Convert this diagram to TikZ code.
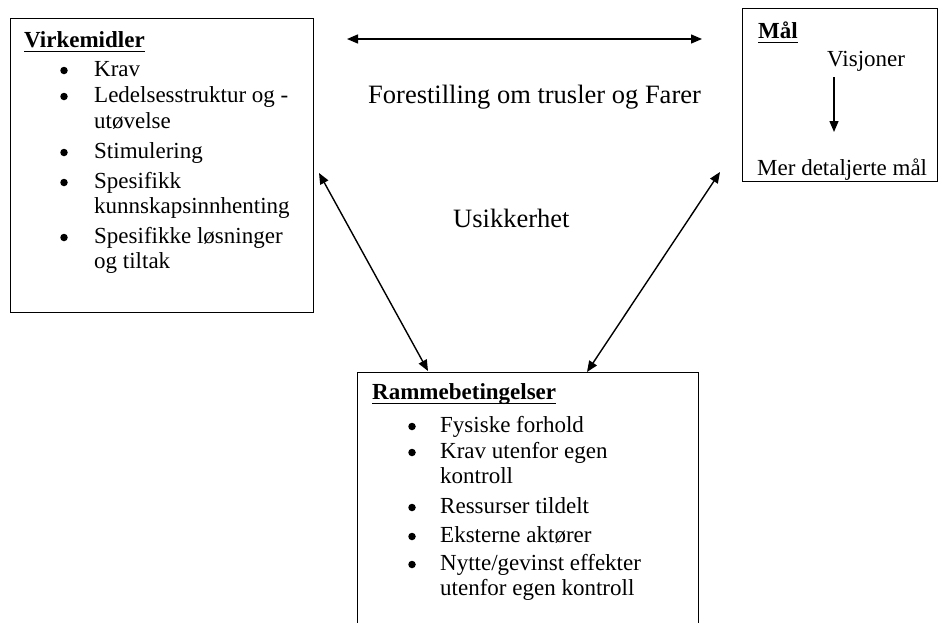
\documentclass[tikz,border=0pt]{standalone}
\usepackage{fontspec}
\setmainfont{Liberation Serif}
\usetikzlibrary{arrows.meta}
\tikzset{
  box/.style={draw, line width=1.4pt, inner sep=0pt, anchor=north west},
  txt/.style={anchor=base west, inner sep=0pt, font=\fontsize{23}{26}\selectfont},
  bul/.style={circle, fill, inner sep=0pt, minimum size=7.5pt},
  big/.style={anchor=base west, inner sep=0pt, font=\fontsize{26.5}{30}\selectfont},
  head/.style={anchor=base west, inner sep=0pt, font=\fontsize{23}{26}\selectfont\bfseries},
  uline/.style={line width=1.8pt},
  arr/.style={line width=1.4pt, {Triangle[length=11pt,width=9pt]}-{Triangle[length=11pt,width=9pt]}},
  arrone/.style={line width=1.4pt, -{Triangle[length=11pt,width=9pt]}}
}
\begin{document}
\begin{tikzpicture}[x=1pt,y=-1pt]
\clip (0,0) rectangle (941,622);
\fill[white] (0,0) rectangle (941,622);

% Boxes
\node[box, minimum width=303pt, minimum height=294pt] (vbox) at (10,18) {};
\node[box, minimum width=195pt, minimum height=173pt] (mbox) at (742,8) {};
\node[box, minimum width=341pt, minimum height=300pt] (rbox) at (357,372) {};

% Virkemidler
\node[head] (vh) at (24,47) {Virkemidler};
\draw[uline] ([yshift=-4.5pt]vh.base west) -- ([yshift=-4.5pt]vh.base east);
\foreach \y in {76,102,158,188,243} \node[bul] at (64,\y-5.5) {};
\node[txt] (v1) at (94,76) {Krav};
\node[txt] (v2) at (94,102) {Ledelsesstruktur og -};
\node[txt] (v3) at (94,128) {utøvelse};
\node[txt] (v4) at (94,158) {Stimulering};
\node[txt] (v5) at (94,188) {Spesifikk};
\node[txt] (v6) at (94,213) {kunnskapsinnhenting};
\node[txt] (v7) at (94,243) {Spesifikke løsninger};
\node[txt] (v8) at (94,268) {og tiltak};

% Maal
\node[head] (mh) at (758,38) {Mål};
\draw[uline] ([yshift=-4.5pt]mh.base west) -- ([yshift=-4.5pt]mh.base east);
\node[txt] (vis) at (827,66) {Visjoner};
\begin{scope}
\clip (mbox.north west) rectangle (mbox.south east);
\node[txt] (mer) at (757,175) {Mer detaljerte mål};
\end{scope}
\coordinate (ma) at (834,77);
\coordinate (mb) at (834,132);
\draw[arrone] (ma) -- (mb);

% Rammebetingelser
\node[head] (rh) at (372,399) {Rammebetingelser};
\draw[uline] ([yshift=-4.5pt]rh.base west) -- ([yshift=-4.5pt]rh.base east);
\foreach \y in {432,458,513,542,570} \node[bul] at (412,\y-5.5) {};
\node[txt] (r1) at (440,432) {Fysiske forhold};
\node[txt] (r2) at (440,458) {Krav utenfor egen};
\node[txt] (r3) at (440,483) {kontroll};
\node[txt] (r4) at (440,513) {Ressurser tildelt};
\node[txt] (r5) at (440,542) {Eksterne aktører};
\node[txt] (r6) at (440,570) {Nytte/gevinst effekter};
\node[txt] (r7) at (440,595) {utenfor egen kontroll};

% Middle labels
\node[big] (fore) at (368,103) {Forestilling om trusler og Farer};
\node[big] (usik) at (453,227) {Usikkerhet};

% Arrows
\coordinate (h1) at (347,39);
\coordinate (h2) at (702,39);
\draw[arr] (h1) -- (h2);
\coordinate (l1) at (319,173);
\coordinate (l2) at (428,371);
\draw[arr] (l1) -- (l2);
\coordinate (q1) at (720,172);
\coordinate (q2) at (587,372);
\draw[arr] (q1) -- (q2);
\end{tikzpicture}
\end{document}
